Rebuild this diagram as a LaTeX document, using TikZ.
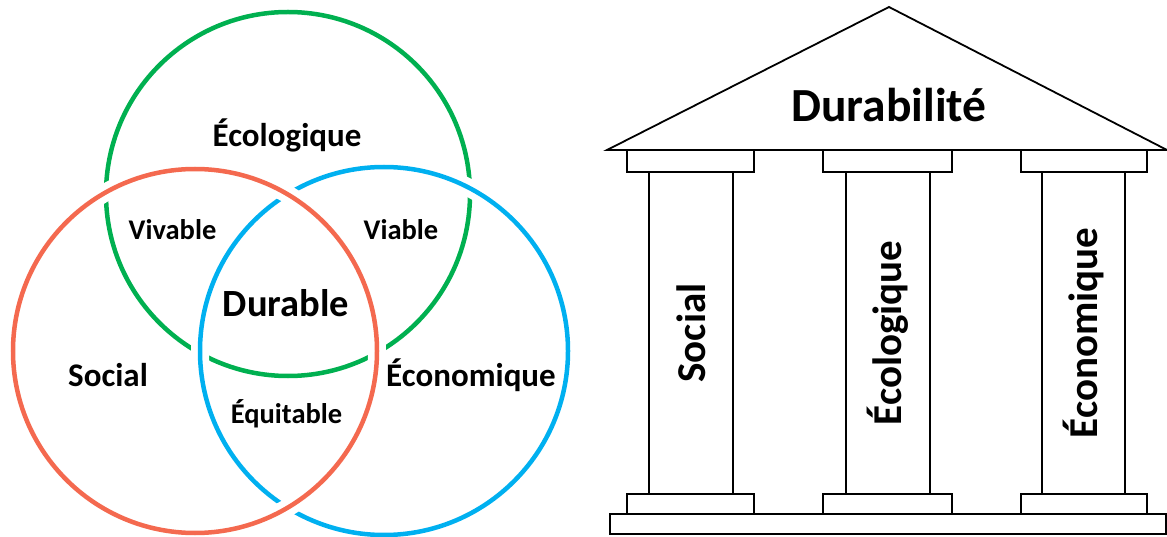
\documentclass[tikz,border=0pt]{standalone}
\usepackage{fontspec}
\setmainfont{Carlito}
\definecolor{ecogreen}{HTML}{00B050}
\definecolor{ecoblue}{HTML}{00B0F0}
\definecolor{socred}{HTML}{F4694F}
\tikzset{
  ring/.style={line width=4.5pt},
  halo/.style={draw=white,line width=18pt},
  big/.style={font=\bfseries\fontsize{33}{36}\selectfont,anchor=base},
  small/.style={font=\bfseries\fontsize{28.5}{30}\selectfont,anchor=base},
  temple/.style={line width=1.8pt,line join=miter},
  pillar/.style={font=\bfseries\fontsize{41}{44}\selectfont,anchor=base,rotate=90}
}
\begin{document}
\begin{tikzpicture}[x=1pt,y=-1pt]
  \useasboundingbox (0,0) rectangle (1167,537);
  % Venn
  \draw[ring,ecogreen] (288,194) circle (182);
  \draw[halo] (384,351) circle (184);
  \draw[ring,ecoblue] (384,351) circle (184);
  \draw[halo] (195,351) circle (182);
  \draw[ring,socred] (195,351) circle (182);
  \node[big] (eco) at (287,147) {Écologique};
  \node[small] (viv) at (172.5,240) {Vivable};
  \node[small] (via) at (401,240) {Viable};
  \node[font=\bfseries\fontsize{38.5}{40}\selectfont,anchor=base] (dur) at (286,316.7) {Durable};
  \node[big] (soc) at (108,386.7) {Social};
  \node[big] (econ) at (471,386.7) {Économique};
  \node[small] (equ) at (286.5,423) {Équitable};
  % temple
  \draw[temple] (607,150) -- (889,7) -- (1167,150) -- cycle;
  \node[font=\bfseries\fontsize{47.5}{50}\selectfont,anchor=base] (durab) at (889,122) {Durabilité};
  \draw[temple] (626.7,150) rectangle (754.3,171.7);
  \draw[temple] (823.3,150) rectangle (951.7,171.7);
  \draw[temple] (1020.7,150) rectangle (1147.3,171.7);
  \draw[temple] (649.3,171.7) -- (649.3,494.3) (733.3,171.7) -- (733.3,494.3);
  \draw[temple] (845.7,171.7) -- (845.7,494.3) (930,171.7) -- (930,494.3);
  \draw[temple] (1041.7,171.7) -- (1041.7,494.3) (1125,171.7) -- (1125,494.3);
  \draw[temple] (626.7,494.3) rectangle (754.3,514);
  \draw[temple] (823.3,494.3) rectangle (951.7,514);
  \draw[temple] (1020.7,494.3) rectangle (1147.3,514);
  \draw[temple] (610,514) rectangle (1166,534.3);
  \node[pillar] (psoc) at (705,333) {Social};
  \node[pillar] (peco) at (901.5,333) {Écologique};
  \node[pillar] (pecon) at (1097,333) {Économique};
\end{tikzpicture}
\end{document}
